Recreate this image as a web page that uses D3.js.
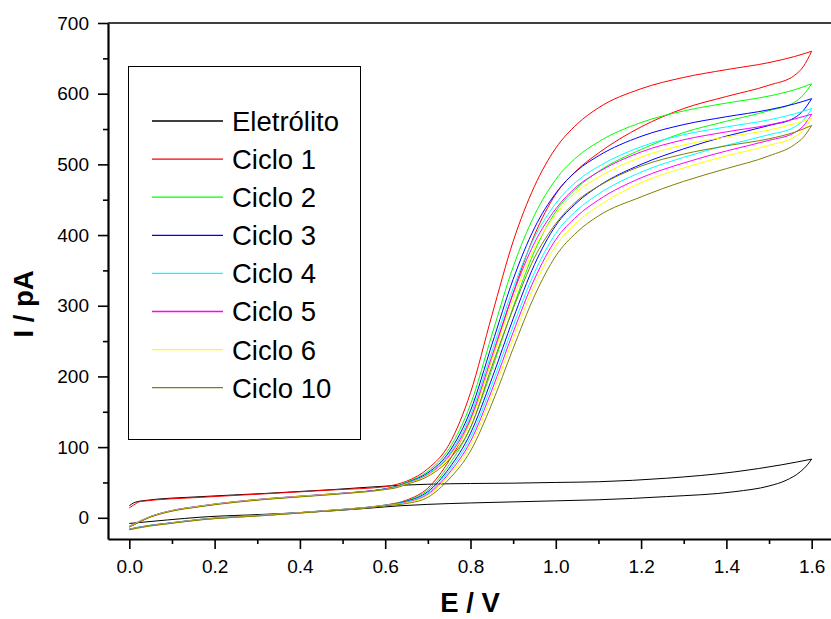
<!DOCTYPE html>
<html><head><meta charset="utf-8">
<script src="https://cdn.jsdelivr.net/npm/d3@7"></script>
<style>body{margin:0;background:#fff}svg{display:block}</style>
</head><body><svg id="c" width="831" height="619"></svg>
<script>
// ---------- data (E / V, I / pA) ----------
const seriesNames = ["Eletrólito","Ciclo 1","Ciclo 2","Ciclo 3","Ciclo 4","Ciclo 5","Ciclo 6","Ciclo 10"];
const seriesColors = ["#000000","#ff0000","#00ff00","#0000ff","#00ffff","#ff00ff","#ffff00","#808000"];

const xTicks = [0,0.2,0.4,0.6,0.8,1.0,1.2,1.4,1.6];
const xMinorTicks = [0.1,0.3,0.5,0.7,0.9,1.1,1.3,1.5];
const yTicks = [0,100,200,300,400,500,600,700];
const yMinorTicks = [50,150,250,350,450,550,650];

// forward scan (0 -> 1.6 V) and reverse scan (1.6 -> 0 V), listed by increasing E
const eletrolitoFwd = [[0,17],[0.01,21],[0.03,24],[0.17,30],[0.32,34.5],[0.48,40],[0.635,46],[0.7,47.5],[0.8,48.5],[0.9,49],[1.0,50],[1.1,51],[1.26,56],[1.42,65],[1.53,75],[1.6,83]];
const eletrolitoRev = [[0,-8],[0.09,-3],[0.17,1],[0.32,5],[0.48,10],[0.56,13.5],[0.635,17],[0.7,19],[0.8,21],[0.9,22.5],[1.0,24],[1.1,25.5],[1.26,30],[1.42,37],[1.5,45],[1.54,53],[1.573,65],[1.59,75],[1.6,83]];

const ciclo1Fwd = [[0,14],[0.01,18],[0.026,23],[0.17,29],[0.32,34],[0.48,39.5],[0.6,44],[0.625,47],[0.65,51.7],[0.7,69.4],[0.75,104],[0.8,177],[0.85,286],[0.9,391],[0.95,469],[1.0,523],[1.05,557],[1.1,580],[1.2,607],[1.3,623],[1.4,634],[1.5,644],[1.56,652.6],[1.6,660]];
const ciclo1Rev = [[0,-16],[0.02,-13.5],[0.05,-10.5],[0.09,-7.7],[0.17,-2],[0.32,4],[0.48,11],[0.56,15],[0.6,18],[0.65,25],[0.7,42],[0.75,81],[0.8,138],[0.85,225],[0.9,318],[0.95,400],[1.0,458],[1.05,492],[1.1,516],[1.2,553],[1.3,579],[1.4,596],[1.5,612],[1.56,626],[1.58,638],[1.6,660]];

const ciclo2Fwd = [[0,-12],[0.02,-6],[0.05,2],[0.09,9],[0.17,17],[0.32,27],[0.48,34],[0.6,41],[0.625,44.5],[0.65,50.4],[0.7,65.8],[0.75,97.9],[0.8,160.4],[0.85,258.5],[0.9,354.9],[0.95,428.1],[1.0,478.7],[1.05,510.7],[1.1,531.8],[1.2,559.2],[1.3,575.6],[1.4,586.7],[1.5,596.7],[1.56,605.5],[1.6,614]];
const ciclo2Rev = [[0,-16],[0.02,-13.5],[0.05,-10.5],[0.09,-7.7],[0.17,-2],[0.32,4],[0.48,11],[0.56,15],[0.6,18],[0.65,24.1],[0.7,39.3],[0.75,75.2],[0.8,128],[0.85,209.6],[0.9,298.1],[0.95,377],[1.0,433.4],[1.05,466.8],[1.1,490],[1.2,521],[1.3,545],[1.4,561],[1.5,576],[1.56,588],[1.58,598],[1.6,614]];

const ciclo3Fwd = [[0,-13],[0.02,-7],[0.05,1.5],[0.09,8.5],[0.17,16.5],[0.32,26.5],[0.48,33.5],[0.6,41],[0.625,44],[0.65,49.6],[0.7,63.6],[0.75,93.2],[0.8,151.6],[0.85,244.7],[0.9,337.4],[0.95,410],[1.0,459.2],[1.05,491.3],[1.1,512],[1.2,539.6],[1.3,556.3],[1.4,567.4],[1.5,577.3],[1.56,585.6],[1.6,593]];
const ciclo3Rev = [[0,-16.5],[0.02,-14],[0.05,-11],[0.09,-8],[0.17,-2.5],[0.32,3.5],[0.48,10.5],[0.56,14.5],[0.6,17.5],[0.65,23.3],[0.7,36.9],[0.75,70.2],[0.8,119.6],[0.85,196.7],[0.9,281.6],[0.95,358.2],[1.0,413.6],[1.05,446.3],[1.1,469.1],[1.2,500],[1.3,522],[1.4,540],[1.5,555],[1.56,566],[1.58,576],[1.6,593]];

const ciclo4Fwd = [[0,-12.5],[0.02,-6.5],[0.05,1.8],[0.09,8.8],[0.17,16.8],[0.32,26.8],[0.48,33.8],[0.6,40.5],[0.625,43.5],[0.65,49],[0.7,62.1],[0.75,90],[0.8,145],[0.85,234.9],[0.9,324.9],[0.95,396.6],[1.0,444.8],[1.05,476.6],[1.1,496.9],[1.2,525],[1.3,542],[1.4,553],[1.5,563],[1.56,571.5],[1.6,579]];
const ciclo4Rev = [[0,-16],[0.02,-13.5],[0.05,-10.5],[0.09,-7.7],[0.17,-2],[0.32,4],[0.48,11],[0.56,15],[0.6,17.8],[0.65,22.5],[0.7,35.1],[0.75,66.6],[0.8,113.5],[0.85,188],[0.9,271.2],[0.95,347],[1.0,402.4],[1.05,435.5],[1.1,458],[1.2,489],[1.3,510],[1.4,527],[1.5,542],[1.56,553],[1.58,562],[1.6,579]];

const ciclo5Fwd = [[0,-12],[0.02,-6],[0.05,2],[0.09,9],[0.17,17],[0.32,27],[0.48,34],[0.6,40.5],[0.625,43.2],[0.65,48.5],[0.7,60.9],[0.75,87.7],[0.8,140.4],[0.85,228.4],[0.9,317.2],[0.95,389],[1.0,437.1],[1.05,469.1],[1.1,489.3],[1.2,517.6],[1.3,534.8],[1.4,546],[1.5,555.8],[1.56,564.2],[1.6,571]];
const ciclo5Rev = [[0,-16.5],[0.02,-14],[0.05,-11],[0.09,-8],[0.17,-2.3],[0.32,3.8],[0.48,10.8],[0.56,14.8],[0.6,17.6],[0.65,21.8],[0.7,33.4],[0.75,63.3],[0.8,108.1],[0.85,180.5],[0.9,262.4],[0.95,337.8],[1.0,393.6],[1.05,426.9],[1.1,449.6],[1.2,481],[1.3,502],[1.4,519],[1.5,534],[1.56,545],[1.58,554],[1.6,571]];

const ciclo6Fwd = [[0,-12.5],[0.02,-6.5],[0.05,1.5],[0.09,8.5],[0.17,16.5],[0.32,26.5],[0.48,33.5],[0.6,40],[0.625,42.8],[0.65,48],[0.7,60.1],[0.75,85.8],[0.8,136.2],[0.85,223.7],[0.9,309.6],[0.95,381.4],[1.0,429.5],[1.05,461.6],[1.1,481.7],[1.2,510.3],[1.3,527.5],[1.4,538.8],[1.5,548.6],[1.56,557.5],[1.6,565]];
const ciclo6Rev = [[0,-17],[0.02,-14.5],[0.05,-11.5],[0.09,-8.3],[0.17,-2.6],[0.32,3.5],[0.48,10.5],[0.56,14.5],[0.6,17.3],[0.65,21.2],[0.7,31.7],[0.75,60.1],[0.8,102.9],[0.85,173.1],[0.9,253.7],[0.95,328.7],[1.0,384.8],[1.05,418.4],[1.1,441.1],[1.2,474],[1.3,495],[1.4,512],[1.5,527],[1.56,539],[1.58,548],[1.6,566]];

const ciclo10Fwd = [[0,-13],[0.02,-7],[0.05,1],[0.09,8],[0.17,16],[0.32,26],[0.48,33],[0.6,40],[0.625,42.3],[0.65,47.3],[0.7,58.6],[0.75,82.4],[0.8,127.6],[0.85,214.1],[0.9,295.7],[0.95,367.9],[1.0,416.2],[1.05,448.6],[1.1,469.1],[1.2,497.6],[1.3,514.6],[1.4,526.2],[1.5,536.2],[1.56,545.5],[1.6,555]];
const ciclo10Rev = [[0,-17],[0.02,-14.5],[0.05,-11.5],[0.09,-8.5],[0.17,-2.8],[0.32,3.3],[0.48,10.3],[0.56,14.3],[0.6,17],[0.65,20.2],[0.7,29],[0.75,54.9],[0.8,94.5],[0.85,161.1],[0.9,239.6],[0.95,313.9],[1.0,370.4],[1.05,404.4],[1.1,427.1],[1.2,454],[1.3,476],[1.4,494],[1.5,512],[1.56,528],[1.58,538],[1.6,555]];

const seriesFwd = [eletrolitoFwd,ciclo1Fwd,ciclo2Fwd,ciclo3Fwd,ciclo4Fwd,ciclo5Fwd,ciclo6Fwd,ciclo10Fwd];
const seriesRev = [eletrolitoRev,ciclo1Rev,ciclo2Rev,ciclo3Rev,ciclo4Rev,ciclo5Rev,ciclo6Rev,ciclo10Rev];

// ---------- drawing ----------
const W = 831, H = 619;
const FONT = '"Liberation Sans", Arial, Helvetica, sans-serif';
const svg = d3.select("#c");
const x = d3.scaleLinear().domain([-0.05, 1.65]).range([108, 833]);
const y = d3.scaleLinear().domain([-30, 700]).range([539, 23]);

// top frame line
svg.append("line").attr("x1", 108).attr("x2", W).attr("y1", y(700)).attr("y2", y(700))
  .attr("stroke", "#000").attr("stroke-width", 1.3);

const line = d3.line().x(d => x(d[0])).y(d => y(d[1])).curve(d3.curveMonotoneX);
const curves = svg.append("g").attr("fill", "none").attr("stroke-width", 1);
seriesNames.forEach((name, i) => {
  curves.append("path").attr("d", line(seriesFwd[i])).attr("stroke", seriesColors[i]);
  curves.append("path").attr("d", line(seriesRev[i])).attr("stroke", seriesColors[i]);
});

// axes
svg.append("g").attr("transform", "translate(108,0)")
  .call(d3.axisLeft(y).tickValues(yTicks).tickFormat(d3.format("d")).tickSize(10).tickSizeOuter(0).tickPadding(9));
const yMinor = svg.append("g").attr("transform", "translate(108,0)")
  .call(d3.axisLeft(y).tickValues(yMinorTicks).tickFormat("").tickSize(5).tickSizeOuter(0));
yMinor.select(".domain").remove();
svg.append("g").attr("transform", "translate(0,539)")
  .call(d3.axisBottom(x).tickValues(xTicks).tickFormat(d3.format(".1f")).tickSize(10).tickSizeOuter(0).tickPadding(11));
const xMinor = svg.append("g").attr("transform", "translate(0,539)")
  .call(d3.axisBottom(x).tickValues(xMinorTicks).tickFormat("").tickSize(5).tickSizeOuter(0));
xMinor.select(".domain").remove();

svg.selectAll(".domain").attr("stroke", "#000").attr("stroke-width", 2.2);
svg.selectAll(".tick line").attr("stroke", "#000").attr("stroke-width", 1.6);
svg.selectAll(".tick text").attr("font-family", FONT).attr("font-size", 19).attr("fill", "#000");

// axis titles
svg.append("text").attr("x", 470).attr("y", 612).attr("text-anchor", "middle")
  .attr("font-family", FONT).attr("font-weight", "bold").attr("font-size", 27.5).text("E / V");
svg.append("text").attr("transform", "translate(33,304) rotate(-90)").attr("text-anchor", "middle")
  .attr("font-family", FONT).attr("font-weight", "bold").attr("font-size", 27.5).text("I / pA");

// legend
const lg = svg.append("g");
lg.append("rect").attr("x", 128.5).attr("y", 66.5).attr("width", 232).attr("height", 373)
  .attr("fill", "#fff").attr("stroke", "#000").attr("stroke-width", 1);
seriesNames.forEach((name, i) => {
  const yy = 121 + i * 38.1;
  lg.append("line").attr("x1", 152).attr("x2", 223).attr("y1", yy).attr("y2", yy)
    .attr("stroke", seriesColors[i]).attr("stroke-width", 1.3);
  lg.append("text").attr("x", 232).attr("y", yy).attr("dy", "0.36em")
    .attr("font-family", FONT).attr("font-size", 27.5).attr("fill", "#000").text(name);
});
</script></body></html>
